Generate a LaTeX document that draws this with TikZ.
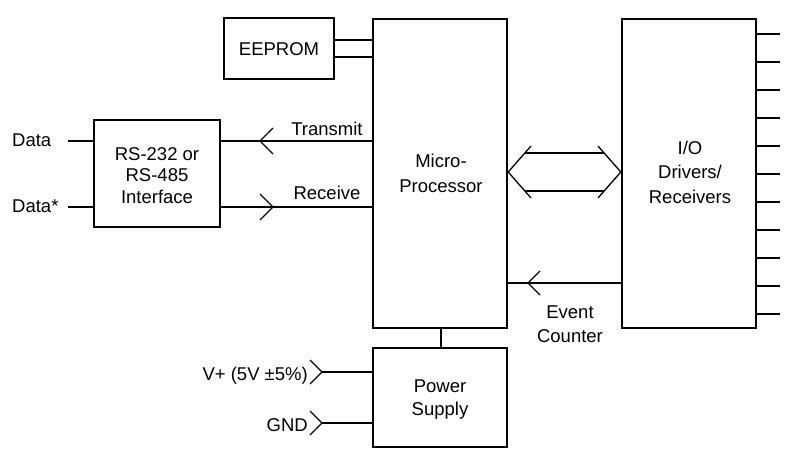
\documentclass[tikz,border=0pt]{standalone}
\usepackage{fontspec}
\setmainfont{Liberation Sans}
\usetikzlibrary{calc}
\begin{document}
\begin{tikzpicture}[x=1pt,y=-1pt,
  blk/.style={draw,line width=2.4pt,inner sep=0pt,minimum width=#1},
  wire/.style={line width=1.3pt},
  lbl/.style={inner sep=0pt,font=\fontsize{18.5}{22}\selectfont},
  btxt/.style={inner sep=0pt,align=center,anchor=base,font=\fontsize{18.5}{#1}\selectfont}]
\useasboundingbox (0,0) rectangle (792,463);
% blocks
\node[blk=110,minimum height=61] (eeprom) at (279,48.5) {};
\node[blk=134,minimum height=309] (mp) at (440,173.5) {};
\node[blk=134,minimum height=309] (io) at (689,173.5) {};
\node[blk=126,minimum height=107] (rs) at (157,173.5) {};
\node[blk=134,minimum height=99] (ps) at (440,397.5) {};
% block texts (base = last line)
\node[lbl,anchor=base] (teeprom) at (279,55) {EEPROM};
\node[btxt=25] (tmp) at (441,192) {Micro-\\Processor};
\node[btxt=24.5] (tio) at (690,203) {I/O\\Drivers/\\Receivers};
\node[btxt=21.5] (trs) at (157,203) {RS-232 or\\RS-485\\Interface};
\node[btxt=23] (tps) at (440,415) {Power\\Supply};
% outer labels
\node[lbl,anchor=base west] (ldata) at (12,146) {Data};
\node[lbl,anchor=base west] (ldatas) at (12,212) {Data*};
\node[lbl,anchor=base] (ltx) at (327,135) {Transmit};
\node[lbl,anchor=base] (lrx) at (327,199) {Receive};
\node[lbl,anchor=base east] (lvp) at (308,380) {V+ (5V \textpm5\%)};
\node[lbl,anchor=base east] (lgnd) at (308,431) {GND};
\node[btxt=24] (lev) at (570,342) {Event\\Counter};
% coordinates for free wire ends
\coordinate (dA) at (68,141);
\coordinate (dB) at (68,207);
\coordinate (vA) at (322,372);
\coordinate (vB) at (322,423);
% EEPROM bus
\draw[wire] (eeprom.east |- 0,40) -- (mp.west |- 0,40);
\draw[wire] (eeprom.east |- 0,57) -- (mp.west |- 0,57);
% data lines
\draw[wire] (dA) -- (rs.west |- dA);
\draw[wire] (dB) -- (rs.west |- dB);
% transmit / receive
\draw[wire] (rs.east |- 0,141) -- (mp.west |- 0,141);
\draw[wire] (rs.east |- 0,207) -- (mp.west |- 0,207);
\draw[wire] (273,128) -- (260,141) -- (273,154);
\draw[wire] (260,194) -- (273,207) -- (260,220);
% power
\draw[wire] (vA) -- (ps.west |- vA);
\draw[wire] (vB) -- (ps.west |- vB);
\draw[wire] (310,360) -- (vA) -- (310,384);
\draw[wire] (310,411) -- (vB) -- (310,435);
\draw[wire] (mp.south -| 441,0) -- (ps.north -| 441,0);
% event counter
\draw[wire] (io.west |- 0,283) -- (mp.east |- 0,283);
\draw[wire] (540,271) -- (528,283) -- (540,295);
% double arrow bus
\coordinate (bl) at (mp.east |- 0,172);
\coordinate (br) at (io.west |- 0,172);
\draw[wire] (531,146) -- (bl) -- (531,198);
\draw[wire] (598,146) -- (br) -- (598,198);
\draw[wire] (525,153) -- (604,153);
\draw[wire] (525,191) -- (604,191);
% I/O pins
\foreach \i in {0,...,10} {
  \draw[wire] (io.east |- 0,{34+28*\i}) -- ++(23,0);
}
\end{tikzpicture}
\end{document}
